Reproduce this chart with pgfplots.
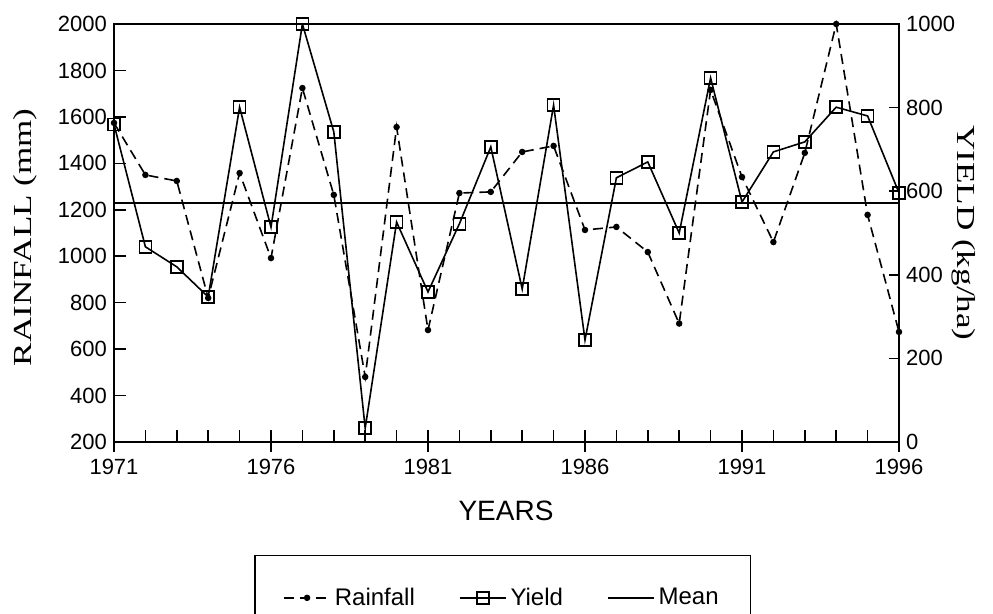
\documentclass[border=0pt]{standalone}
\usepackage{fontspec}
\setmainfont{Liberation Sans}
\newfontfamily\serifwide{Liberation Serif}[FakeStretch=1.35]
\usepackage{pgfplots}
\pgfplotsset{compat=1.18}
\begin{document}
\begin{tikzpicture}
\pgfplotsset{
  common/.style={
    at={(0,0)}, anchor=south west, scale only axis,
    width=392.5pt, height=209pt,
    xmin=1971, xmax=1996,
    /pgf/number format/1000 sep={},
    /pgf/number format/assume math mode=true,
    tick label style={font=\fontsize{11}{12}\selectfont},
    axis line style={line width=0.8pt},
    every tick/.style={black, line width=0.8pt},
    tick align=inside,
  },
  rainstyle/.style={black, line width=0.8pt, dash pattern=on 5pt off 3pt, mark=*, mark size=1.2pt, mark options={solid}},
  yieldstyle/.style={black, line width=0.8pt, mark=square, mark size=3pt, mark options={solid}},
  meanstyle/.style={black, line width=0.8pt},
}
\begin{axis}[common,
  clip=false,
  ymin=200, ymax=2000,
  xtick={1971,1976,...,1996}, minor x tick num=4,
  ytick={200,400,...,2000},
  xtick pos=left, ytick pos=left,
  major tick length=6pt, minor tick length=6pt,
  xticklabel style={yshift=-5pt},
  xlabel={YEARS},
  xlabel style={at={(axis description cs:0.4994,-0.165)}, anchor=center, font=\fontsize{14}{16}\selectfont},
  ylabel={RAINFALL (mm)},
  ylabel style={at={(axis description cs:-0.1134,0.49)}, anchor=center, font=\serifwide\fontsize{13}{14}\selectfont},
]
\pgfplotsinvokeforeach{1971,1976,1981,1986,1991,1996}{
  \draw[black, line width=0.8pt] (axis cs:#1,200) -- ++(0pt,-5pt);
}
\addplot[rainstyle] coordinates {
(1971,1574) (1972,1350) (1973,1324) (1974,820) (1975,1358) (1976,992)
(1977,1724) (1978,1264) (1979,480) (1980,1556) (1981,682) (1982,1272)
(1983,1277) (1984,1449) (1985,1475) (1986,1113) (1987,1126) (1988,1018)
(1989,710) (1990,1716) (1991,1341) (1992,1061) (1993,1445) (1994,2000)
(1995,1178) (1996,674)};
\addplot[meanstyle] coordinates {(1971,1230) (1996,1230)};
\end{axis}
\begin{axis}[common,
  ymin=0, ymax=1000,
  axis y line*=right, axis x line=none,
  ytick={0,200,...,1000},
  major tick length=5pt,
  every axis y label/.style={at={(axis description cs:1.083,0.5)}, rotate=-90, anchor=center},
  ylabel={YIELD (kg/ha)},
  ylabel style={font=\serifwide\fontsize{13}{14}\selectfont},
  legend image code/.code={\draw[mark repeat=2,mark phase=2,#1] plot coordinates {(0pt,0pt) (11.5pt,0pt) (23pt,0pt)};},
  legend style={at={(axis description cs:0.4955,-0.27)}, anchor=north, draw=black, line width=0.8pt,
    legend columns=3, inner xsep=14pt, inner ysep=14pt,
    font=\fontsize{12}{13}\selectfont,
    /tikz/every even column/.append style={column sep=20pt}},
]
\addlegendimage{rainstyle}
\addlegendentry{Rainfall}
\addplot[yieldstyle] coordinates {
(1971,760) (1972,467) (1973,419) (1974,347) (1975,801) (1976,514)
(1977,1000) (1978,742) (1979,33) (1980,526) (1981,359) (1982,522)
(1983,706) (1984,366) (1985,806) (1986,244) (1987,632) (1988,670)
(1989,500) (1990,871) (1991,574) (1992,694) (1993,718) (1994,801)
(1995,780) (1996,596)};
\addlegendentry{Yield}
\addlegendimage{meanstyle}
\addlegendentry{Mean}
\end{axis}
\pgfresetboundingbox
\path[use as bounding box] (-57pt,-86pt) rectangle (439.5pt,221pt);
\end{tikzpicture}
\end{document}
